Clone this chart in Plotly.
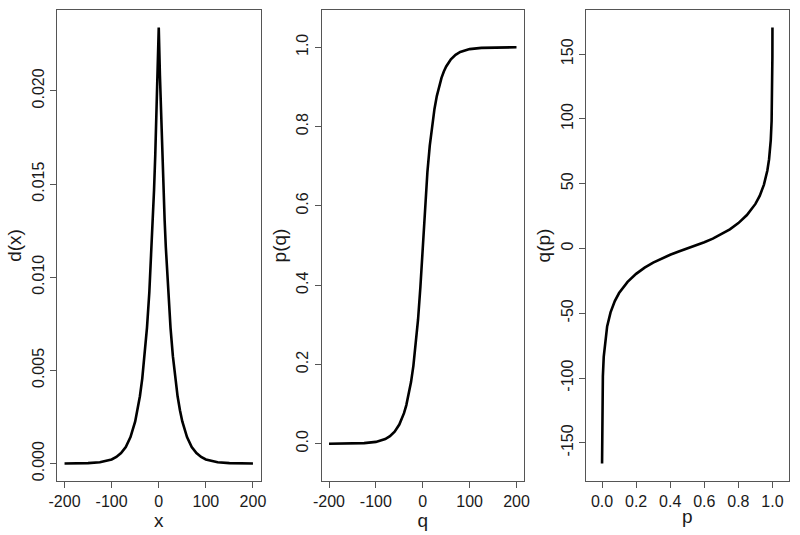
import plotly.graph_objects as go

# ---- Panel 1: density d(x) ----
dens_x = [-200, -175, -150, -125, -100, -90, -80, -70, -60, -50, -45, -40, -35, -30, -25,
          -20, -15, -12.5, -10, -7.5, -5, -2.5, 0, 2.5, 5, 7.5, 10, 12.5, 15, 20, 25, 30,
          35, 40, 45, 50, 60, 70, 80, 90, 100, 125, 150, 175, 200]
dens_y = [0.000002, 0.000007, 0.000021, 0.000068, 0.00022, 0.00035, 0.00056, 0.00089,
          0.00142, 0.00226, 0.00286, 0.00361, 0.00456, 0.00576, 0.00728, 0.00919, 0.01161,
          0.01305, 0.01467, 0.01648, 0.01853, 0.02082, 0.02340, 0.02082, 0.01853, 0.01648,
          0.01467, 0.01305, 0.01161, 0.00919, 0.00728, 0.00576, 0.00456, 0.00361, 0.00286,
          0.00226, 0.00142, 0.00089, 0.00056, 0.00035, 0.00022, 0.000068, 0.000021,
          0.000007, 0.000002]

# ---- Panel 2: distribution function p(q) ----
cdf_q = [-200, -150, -125, -100, -90, -80, -70, -60, -50, -45, -40, -35, -30, -25, -20,
         -15, -10, -5, -2.5, 0, 2.5, 5, 10, 15, 20, 25, 30, 35, 40, 45, 50, 60, 70, 80, 90,
         100, 125, 150, 200]
cdf_p = [0.00004, 0.00045, 0.00145, 0.0047, 0.0075, 0.0119, 0.0190, 0.0303, 0.0484,
         0.0611, 0.0772, 0.0975, 0.1231, 0.1555, 0.1964, 0.2481, 0.3134, 0.3959, 0.4449,
         0.5, 0.5551, 0.6041, 0.6866, 0.7519, 0.8036, 0.8445, 0.8769, 0.9025, 0.9228,
         0.9389, 0.9516, 0.9697, 0.9810, 0.9881, 0.9925, 0.9953, 0.99855, 0.99955, 0.99996]

# ---- Panel 3: quantile function q(p) ----
qf_p = [0.0002, 0.0005, 0.001, 0.002, 0.005, 0.01, 0.02, 0.03, 0.05, 0.075, 0.1, 0.15,
        0.2, 0.25, 0.3, 0.35, 0.4, 0.45, 0.5, 0.55, 0.6, 0.65, 0.7, 0.75, 0.8, 0.85, 0.9,
        0.925, 0.95, 0.97, 0.98, 0.99, 0.995, 0.998, 0.999, 0.9995, 0.99983]
qf_q = [-166.0, -147.8, -133.0, -118.2, -98.6, -83.7, -68.9, -60.2, -49.3, -40.6, -34.4,
        -25.8, -19.6, -14.8, -10.9, -7.6, -4.8, -2.3, 0.0, 2.3, 4.8, 7.6, 10.9, 14.8, 19.6,
        25.8, 34.4, 40.6, 49.3, 60.2, 68.9, 83.7, 98.6, 118.2, 133.0, 147.8, 170.6]

# ---- tick labels ----
x_ticks_q = [-200, -100, 0, 100, 200]
x_ticks_q_text = ["-200", "-100", "0", "100", "200"]
y1_ticks = [0.0, 0.005, 0.010, 0.015, 0.020]
y1_ticks_text = ["0.000", "0.005", "0.010", "0.015", "0.020"]
unit_ticks = [0.0, 0.2, 0.4, 0.6, 0.8, 1.0]
unit_ticks_text = ["0.0", "0.2", "0.4", "0.6", "0.8", "1.0"]
y3_ticks = [-150, -100, -50, 0, 50, 100, 150]
y3_ticks_text = ["-150", "-100", "-50", "0", "50", "100", "150"]

line_style = dict(color="black", width=2.6)
fig = go.Figure()
fig.add_trace(go.Scatter(x=dens_x, y=dens_y, mode="lines", line=line_style,
                         xaxis="x", yaxis="y", showlegend=False))
fig.add_trace(go.Scatter(x=cdf_q, y=cdf_p, mode="lines", line=line_style,
                         xaxis="x2", yaxis="y2", showlegend=False))
fig.add_trace(go.Scatter(x=qf_p, y=qf_q, mode="lines", line=line_style,
                         xaxis="x3", yaxis="y3", showlegend=False))

FONT = "Liberation Sans, Arial, Helvetica, sans-serif"
tickfont = dict(family=FONT, size=16, color="#1a1a1a")
titlefont = dict(family=FONT, size=19, color="#1a1a1a")

def ax(domain, rng, tv, tt, title, anchor, is_y):
    d = dict(domain=domain, range=rng, tickvals=tv, ticktext=tt, tickmode="array",
             showline=True, mirror=True, linecolor="#555", linewidth=1,
             ticks="outside", ticklen=6, tickcolor="#555", tickwidth=1,
             showgrid=False, zeroline=False, tickfont=tickfont,
             title=dict(text=title, font=titlefont, standoff=2 if is_y else 0),
             anchor=anchor, automargin=False, fixedrange=True)
    if is_y:
        d["tickangle"] = -90
    return d

ydom = [54 / 535, 525 / 535]
fig.update_layout(
    width=800, height=535,
    margin=dict(l=0, r=0, t=0, b=0),
    paper_bgcolor="white", plot_bgcolor="white",
    hovermode=False,
    xaxis=ax([57 / 800, 260.5 / 800], [-216, 216], x_ticks_q, x_ticks_q_text, "x", "y", False),
    yaxis=ax(ydom, [-0.000936, 0.024336], y1_ticks, y1_ticks_text, "d(x)", "x", True),
    xaxis2=ax([321.5 / 800, 524 / 800], [-216, 216], x_ticks_q, x_ticks_q_text, "q", "y2", False),
    yaxis2=ax(ydom, [-0.094, 1.094], unit_ticks, unit_ticks_text, "p(q)", "x2", True),
    xaxis3=ax([586 / 800, 788.5 / 800], [-0.094, 1.094], unit_ticks, unit_ticks_text, "p", "y3", False),
    yaxis3=ax(ydom, [-179.5, 184.1], y3_ticks, y3_ticks_text, "q(p)", "x3", True),
)

fig.write_html(
    "out.html",
    config={"displayModeBar": False, "staticPlot": True},
    post_script="document.body.style.margin='0';document.body.style.padding='0';"
                "document.body.style.overflow='hidden';",
)
